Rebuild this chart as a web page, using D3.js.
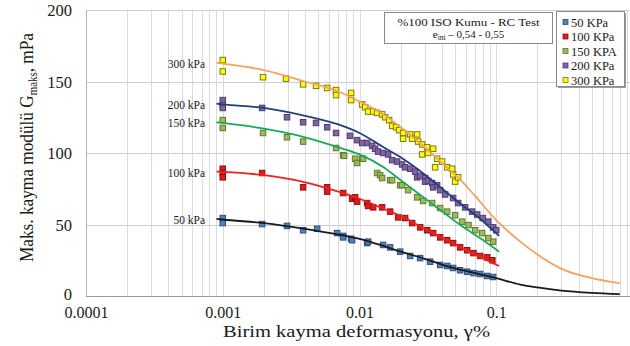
<!DOCTYPE html>
<html>
<head>
<meta charset="utf-8">
<script src="https://cdn.jsdelivr.net/npm/d3@7"></script>
<style>
  body { margin: 0; background: #fff; }
  svg { display: block; }
  text { font-family: "Liberation Serif", "Times New Roman", serif; fill: #1a1a1a; }
</style>
</head>
<body>
<svg id="chart" width="630" height="346"></svg>
<script>
// ---- data --------------------------------------------------------------
const seriesNames  = ["50 kPa", "100 kPa", "150 kPa", "200 kPa", "300 kPa"];
const legendNames  = ["50 KPa", "100 KPa", "150 KPA", "200 KPa", "300 KPa"];
const xTickValues  = [0.0001, 0.001, 0.01, 0.1, 1];
const xTickLabels  = ["0.0001", "0.001", "0.01", "0.1", "1"];
const yTickValues  = [0, 50, 100, 150, 200];

// measured points [shear strain %, Gmax MPa]
const points50 = [[0.001,54.5],[0.001,51],[0.00194,50.3],[0.00295,49],[0.00387,46],[0.0049,47],
  [0.00686,44],[0.00759,42],[0.00868,40],[0.00759,41],[0.00883,39],[0.01137,37],[0.01156,38],
  [0.01488,35.7],[0.01674,34],[0.01982,31],[0.02346,28],[0.02775,26.5],[0.03285,24],[0.03887,21.7],
  [0.04373,21],[0.04838,19.6],[0.05443,18],[0.06125,17],[0.06816,16],[0.07625,15.4],[0.0858,14],[0.0949,13.3]];
const points100 = [[0.001,89],[0.001,86],[0.001,83],[0.00194,86],[0.00387,76],[0.0058,76],[0.0058,73],
  [0.00759,72],[0.00883,68],[0.00929,69],[0.0096,66],[0.01137,65],[0.01156,63],[0.01259,62],[0.01463,62],
  [0.01674,59],[0.01916,55],[0.02156,54.5],[0.02426,51],[0.02775,48],[0.03123,46],[0.03454,44],
  [0.03887,41],[0.04373,39],[0.04838,37],[0.05443,34],[0.06125,32],[0.06816,30],[0.07625,28],
  [0.0858,27],[0.0936,25]];
const points150 = [[0.001,123],[0.001,117.5],[0.00197,114],[0.00295,111],[0.00387,108],[0.00674,103.5],
  [0.00759,98.5],[0.00772,98],[0.00929,96],[0.0096,93],[0.01045,96],[0.01062,96],[0.01345,86],
  [0.01415,84.5],[0.01463,82.5],[0.01674,81],[0.01732,81],[0.01982,77.5],[0.02049,77.5],[0.02267,74],
  [0.02639,69],[0.02919,66.5],[0.03398,65],[0.03887,61.5],[0.04373,59],[0.05004,56.5],[0.0563,52],
  [0.06267,49.6],[0.0701,46],[0.07885,44],[0.0875,40.5],[0.0949,38]];
const points200 = [[0.001,137],[0.001,133.5],[0.001,131.5],[0.00194,131.5],[0.00295,125],[0.00387,121.5],
  [0.00481,121],[0.0058,118],[0.00674,114],[0.00853,112],[0.0096,109],[0.01045,107],[0.01137,107],
  [0.01237,105],[0.013,103],[0.01368,101],[0.01488,100],[0.01619,99],[0.01732,95],[0.01884,94],
  [0.02049,92],[0.02156,90],[0.02346,89],[0.02551,87],[0.02639,83],[0.02775,84],[0.03019,82.5],
  [0.03019,80],[0.03175,80.5],[0.03398,79],[0.03454,76],[0.03695,77.5],[0.03887,74],[0.04228,71],
  [0.04838,68.5],[0.05263,65],[0.05923,62],[0.06663,59],[0.0725,57],[0.0797,54.5],[0.0875,52],
  [0.0949,48],[0.1,46]];
const points300 = [[0.001,165],[0.001,157],[0.00197,153],[0.0029,152],[0.00387,148],[0.00481,147],
  [0.0058,145.5],[0.00674,144],[0.00674,140.5],[0.00868,142],[0.00868,137],[0.01045,134],[0.011,132],
  [0.01156,129],[0.01259,129],[0.01345,128],[0.01463,127],[0.01539,125],[0.01646,123],[0.01732,119],
  [0.01852,118],[0.01949,116],[0.02084,114],[0.02084,110],[0.02346,113],[0.02426,110],[0.02639,113],
  [0.02684,108],[0.02871,106],[0.02871,99],[0.03123,104],[0.03175,100],[0.03454,103],[0.03573,90],
  [0.03695,96],[0.04019,94],[0.04373,90],[0.04757,89],[0.04838,85],[0.05004,80],[0.05263,83]];

// fitted curves [shear strain %, Gmax MPa]
const fit50 = [[0.0009,54],[0.001,53.5],[0.002,51],[0.004,47],[0.007,43],[0.01,40],[0.015,35],[0.02,31],
  [0.03,26],[0.04,22],[0.06,17.5],[0.1,12.5],[0.15,8],[0.2,6],[0.3,3.8],[0.5,2.2],[0.8,1.3]];
const fit100 = [[0.0009,87],[0.001,86.8],[0.002,84.5],[0.004,79.5],[0.007,73],[0.01,68],[0.015,61],[0.02,56],
  [0.03,47],[0.04,41],[0.055,34],[0.075,27.5],[0.105,21]];
const fit150 = [[0.0009,121.5],[0.001,121],[0.002,117],[0.004,111],[0.007,104],[0.01,99],[0.015,90],
  [0.02,81],[0.028,70.5],[0.039,60],[0.054,50],[0.076,40.5],[0.105,31]];
const fit200 = [[0.0009,134.5],[0.001,134],[0.002,131.5],[0.004,126],[0.007,120],[0.01,114],[0.015,104],
  [0.02,97],[0.0255,90],[0.039,76],[0.054,65],[0.076,54],[0.105,42]];
const fit300 = [[0.0009,163],[0.001,162.5],[0.002,158],[0.004,150],[0.007,143],[0.01,136],[0.015,127],
  [0.02,118],[0.03,104],[0.04,93],[0.055,81],[0.07,70],[0.1,53],[0.15,38],[0.2,29],[0.3,19],
  [0.5,12.5],[0.8,9]];

// ---- styling -------------------------------------------------------------
const markerFill   = ["#4f81bd", "#e01b1b", "#9bbb59", "#8064a2", "#ffff00"];
const markerStroke = ["#2c4f7c", "#8f1010", "#5f7a2e", "#4f3a6e", "#7a7a10"];
const lineColor    = ["#1a1a1a", "#f02020", "#1aa85a", "#243f7a", "#f5a263"];
const SERIF = '"Liberation Serif", "Times New Roman", serif';

const series = seriesNames.map((name, i) => ({
  name, legend: legendNames[i],
  points: [points50, points100, points150, points200, points300][i],
  fit: [fit50, fit100, fit150, fit200, fit300][i],
  fill: markerFill[i], stroke: markerStroke[i], line: lineColor[i]
}));

const svg = d3.select("#chart");
const x = d3.scaleLog().domain([0.0001, 1]).range([86, 633]);
const y = d3.scaleLinear().domain([0, 200]).range([296, 10]);

// ---- grid ----------------------------------------------------------------
const grid = svg.append("g");
const minor = [];
for (let d = 0.0001; d < 1; d *= 10) for (let k = 1; k <= 9; k++) minor.push(k * d);
minor.push(1);
grid.selectAll("line.v").data(minor).join("line")
  .attr("x1", d => Math.round(x(d)) + 0.5).attr("x2", d => Math.round(x(d)) + 0.5)
  .attr("y1", y(200)).attr("y2", y(0))
  .attr("stroke", "#dcdcdc").attr("stroke-width", 1);
grid.selectAll("line.h").data(yTickValues.filter(v => v > 0)).join("line")
  .attr("x1", x(0.0001)).attr("x2", 630)
  .attr("y1", d => Math.round(y(d)) + 0.5).attr("y2", d => Math.round(y(d)) + 0.5)
  .attr("stroke", "#cfcfcf").attr("stroke-width", 1);
// axis lines
grid.append("line").attr("x1", x(0.0001)).attr("x2", 630)
  .attr("y1", Math.round(y(0)) + 0.5).attr("y2", Math.round(y(0)) + 0.5)
  .attr("stroke", "#9a9a9a");
grid.append("line").attr("x1", Math.round(x(0.0001)) + 0.5).attr("x2", Math.round(x(0.0001)) + 0.5)
  .attr("y1", y(200)).attr("y2", y(0)).attr("stroke", "#b5b5b5");

// ---- axes labels -----------------------------------------------------------
const xAxis = d3.axisBottom(x).tickValues(xTickValues).tickFormat((d, i) => xTickLabels[i]).tickSize(0).tickPadding(0);
const gx = svg.append("g").attr("transform", `translate(0,${y(0)})`).call(xAxis)
  .attr("font-family", SERIF).attr("font-size", 16);
gx.select(".domain").remove();
gx.selectAll("text").attr("dy", null).attr("y", 22).attr("fill", "#1a1a1a");

const yAxis = d3.axisLeft(y).tickValues(yTickValues).tickFormat(d3.format("d")).tickSize(0).tickPadding(0);
const gy = svg.append("g").attr("transform", "translate(72,0)").call(yAxis)
  .attr("font-family", SERIF).attr("font-size", 16.5);
gy.select(".domain").remove();
gy.selectAll("text").attr("x", 0).attr("dy", "0.34em").attr("fill", "#1a1a1a");
gy.selectAll(".tick").filter(d => d === 0).select("text").attr("dy", "0.2em");

svg.append("text").attr("x", 223).attr("y", 337)
  .attr("font-size", 17.5).attr("textLength", 267).attr("lengthAdjust", "spacingAndGlyphs")
  .text("Birim kayma deformasyonu, γ%");

const yt = svg.append("text").attr("transform", "translate(33,262) rotate(-90)")
  .attr("font-size", 19).attr("textLength", 229).attr("lengthAdjust", "spacingAndGlyphs");
yt.append("tspan").text("Maks. kayma modülü G");
yt.append("tspan").attr("font-size", 12).attr("dy", 4).text("maks");
yt.append("tspan").attr("dy", -4).text(", mPa");

// ---- marks -------------------------------------------------------------------
const S = 5.5;
series.forEach(s => {
  svg.append("g").selectAll("rect").data(s.points).join("rect")
    .attr("x", d => x(d[0]) - S / 2).attr("y", d => y(d[1]) - S / 2)
    .attr("width", S).attr("height", S)
    .attr("fill", s.fill).attr("stroke", s.stroke).attr("stroke-width", 1);
});
const line = d3.line().x(d => x(d[0])).y(d => y(d[1])).curve(d3.curveMonotoneX);
series.forEach(s => {
  svg.append("path").datum(s.fit).attr("d", line)
    .attr("fill", "none").attr("stroke", s.line).attr("stroke-width", 1.8);
});

// pressure labels beside each curve
series.forEach(s => {
  svg.append("text").attr("x", 205).attr("y", y(s.fit[0][1]) + 5)
    .attr("text-anchor", "end").attr("font-size", 11.5)
    .text(s.name);
});

// ---- info box ------------------------------------------------------------------
svg.append("rect").attr("x", 384.5).attr("y", 12.5).attr("width", 168).attr("height", 31)
  .attr("fill", "#fff").attr("stroke", "#8a8a8a");
svg.append("text").attr("x", 468.5).attr("y", 26).attr("text-anchor", "middle")
  .attr("font-size", 11).attr("textLength", 142).attr("lengthAdjust", "spacingAndGlyphs")
  .text("%100 ISO Kumu - RC Test");
const e = svg.append("text").attr("x", 468.5).attr("y", 38).attr("text-anchor", "middle").attr("font-size", 11);
e.append("tspan").text("e");
e.append("tspan").attr("font-size", 7.5).attr("dy", 2).text("int");
e.append("tspan").attr("dy", -2).text(" – 0,54 - 0,55");

// ---- legend --------------------------------------------------------------------
svg.append("rect").attr("x", 558).attr("y", 13).attr("width", 68).attr("height", 75).attr("fill", "#9a9a9a");
svg.append("rect").attr("x", 556.5).attr("y", 11.5).attr("width", 68).attr("height", 75)
  .attr("fill", "#fff").attr("stroke", "#8a8a8a");
const lg = svg.append("g").selectAll("g").data(series).join("g")
  .attr("transform", (d, i) => `translate(0,${22 + i * 14.5})`);
lg.append("rect").attr("x", 563).attr("y", -2.5).attr("width", 5).attr("height", 5)
  .attr("fill", d => d.fill).attr("stroke", d => d.stroke).attr("stroke-width", 0.8);
lg.append("text").attr("x", 571).attr("y", 4.5).attr("font-size", 12.5).text(d => d.legend);
</script>
</body>
</html>
